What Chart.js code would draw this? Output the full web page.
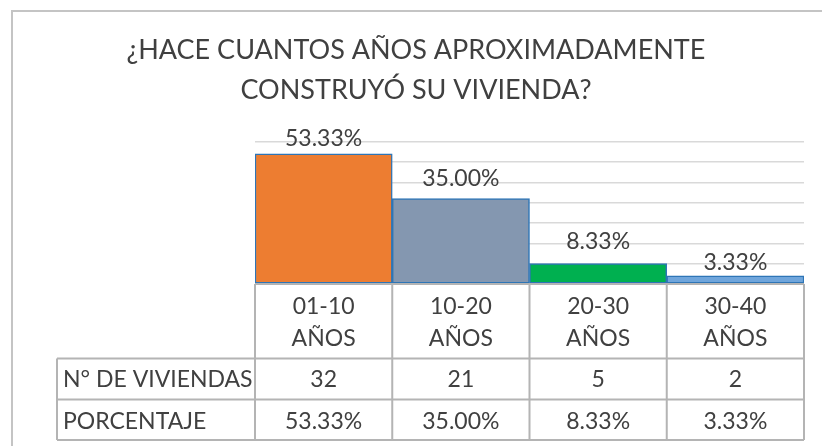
<!DOCTYPE html>
<html>
<head>
<meta charset="utf-8">
<script src="https://cdn.jsdelivr.net/npm/chart.js@4.4.1/dist/chart.umd.min.js"></script>
<style>
  body { margin: 0; background: #fff; }
  canvas { display: block; }
</style>
</head>
<body>
<canvas id="chart" width="822" height="446"></canvas>
<script>
const categories = [['01-10', 'AÑOS'], ['10-20', 'AÑOS'], ['20-30', 'AÑOS'], ['30-40', 'AÑOS']];
const viviendas = [32, 21, 5, 2];
const porcentajes = ['53.33%', '35.00%', '8.33%', '3.33%'];
const rowLabels = ['N° DE VIVIENDAS', 'PORCENTAJE'];
const barColors = ['#ED7D31', '#8497B0', '#00B050', '#6FA5DB'];

const textColor = '#404040';
const lineColor = '#B4B4B4';
const labelLift = [7.5, 12.5, 15, 5.5];

// white background + outer chart frame
const frame = {
  id: 'frame',
  beforeDraw(chart) {
    const ctx = chart.ctx;
    ctx.save();
    ctx.fillStyle = '#fff';
    ctx.fillRect(0, 0, chart.width, chart.height);
    ctx.strokeStyle = '#C4C4C4';
    ctx.lineWidth = 2;
    ctx.beginPath();
    ctx.moveTo(12, chart.height);
    ctx.lineTo(12, 11);
    ctx.lineTo(chart.width, 11);
    ctx.stroke();
    ctx.restore();
  }
};

// data table under the bars + value labels over the bars
const dataTable = {
  id: 'dataTable',
  afterDatasetsDraw(chart) {
    const ctx = chart.ctx;
    const x = chart.scales.x;
    const area = chart.chartArea;
    const meta = chart.getDatasetMeta(0);
    const half = (x.getPixelForValue(1) - x.getPixelForValue(0)) / 2;
    const top = area.bottom;
    const row1 = 358.5, row2 = 399.5, bottom = 440;
    const leftCol = 57;

    ctx.save();
    ctx.strokeStyle = lineColor;
    ctx.lineWidth = 2;
    ctx.beginPath();
    // horizontal lines
    ctx.moveTo(area.left, top); ctx.lineTo(area.right, top);
    ctx.moveTo(leftCol, row1); ctx.lineTo(area.right, row1);
    ctx.moveTo(leftCol, row2); ctx.lineTo(area.right, row2);
    ctx.moveTo(leftCol, bottom); ctx.lineTo(area.right, bottom);
    // vertical lines
    ctx.moveTo(leftCol, row1); ctx.lineTo(leftCol, bottom);
    categories.forEach((c, i) => {
      const cx = x.getPixelForValue(i);
      ctx.moveTo(cx - half, top); ctx.lineTo(cx - half, bottom);
    });
    ctx.moveTo(area.right, top); ctx.lineTo(area.right, bottom);
    ctx.stroke();

    ctx.fillStyle = textColor;
    ctx.font = '23px Lato';
    ctx.textBaseline = 'alphabetic';
    ctx.textAlign = 'left';
    ctx.fillText(rowLabels[0], leftCol + 6, 387);
    ctx.fillText(rowLabels[1], leftCol + 6, 428.5);

    ctx.textAlign = 'center';
    categories.forEach((c, i) => {
      const cx = x.getPixelForValue(i);
      ctx.fillText(c[0], cx, 314);
      ctx.fillText(c[1], cx, 346);
      ctx.fillText(String(viviendas[i]), cx, 387);
      ctx.fillText(porcentajes[i], cx, 428.5);
    });

    // value labels
    meta.data.forEach((bar, i) => {
      ctx.fillText(porcentajes[i], bar.x, bar.y - labelLift[i]);
    });
    ctx.restore();
  }
};

new Chart(document.getElementById('chart'), {
  type: 'bar',
  data: {
    labels: categories,
    datasets: [{
      data: viviendas,
      backgroundColor: barColors,
      borderColor: '#2E75B6',
      borderWidth: 1.5,
      borderSkipped: false,
      categoryPercentage: 1,
      barPercentage: 1
    }]
  },
  options: {
    responsive: false,
    animation: false,
    devicePixelRatio: 1,
    layout: { padding: { left: 10, right: 0, top: 0, bottom: 0 } },
    plugins: {
      legend: { display: false },
      tooltip: { enabled: false },
      title: {
        display: true,
        text: ['¿HACE CUANTOS AÑOS APROXIMADAMENTE', 'CONSTRUYÓ SU VIVIENDA?'],
        color: textColor,
        font: { family: 'Lato', size: 27, weight: 'normal', lineHeight: 40 / 27 },
        padding: { top: 30.5, bottom: 31.2 }
      }
    },
    scales: {
      x: {
        grid: { display: false },
        border: { display: false },
        ticks: { display: false },
        afterFit(scale) { scale.height = 162; }
      },
      y: {
        min: 0,
        max: 35,
        ticks: { display: false, stepSize: 5 },
        grid: { color: '#D9D9D9', lineWidth: 1.5, drawTicks: false },
        border: { display: false },
        afterFit(scale) { scale.width = 245; }
      },
      pad: {
        position: 'right',
        grid: { display: false },
        border: { display: false },
        ticks: { display: false },
        afterFit(scale) { scale.width = 18; }
      }
    }
  },
  plugins: [frame, dataTable]
});
</script>
</body>
</html>
